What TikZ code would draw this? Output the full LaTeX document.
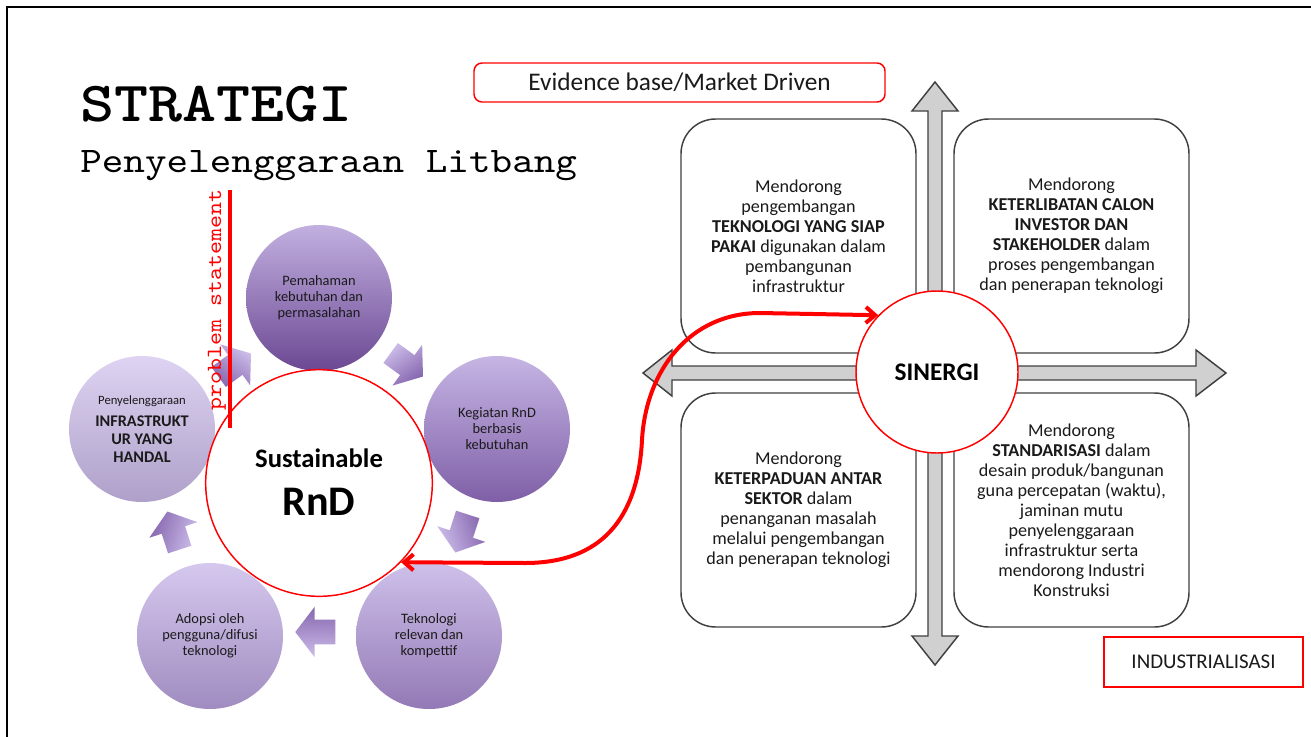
\documentclass[tikz,border=0pt]{standalone}
\usepackage{fontspec}
\setmainfont{Carlito}
\newfontfamily\courfont[FakeStretch=1.143,BoldFont=lmmonolt10-bold.otf]{lmmono10-regular.otf}
\usetikzlibrary{shapes.arrows,arrows.meta}
\definecolor{myred}{HTML}{FF0000}
\definecolor{boxgray}{HTML}{404040}
\definecolor{arrgray}{HTML}{D0D0D0}
\definecolor{txt}{HTML}{1A1A1A}
\definecolor{pA}{HTML}{C2B0E0}\definecolor{pAd}{HTML}{6B4893}
\definecolor{pB}{HTML}{C6B5E4}\definecolor{pBd}{HTML}{7F5FA7}
\definecolor{pC}{HTML}{CEC0EA}\definecolor{pCd}{HTML}{9379B5}
\definecolor{pD}{HTML}{D5C8EE}\definecolor{pDd}{HTML}{A08CC0}
\definecolor{pE}{HTML}{DED3F2}\definecolor{pEd}{HTML}{AEA0C9}
\definecolor{arL}{HTML}{CDBDEA}\definecolor{arD}{HTML}{8566AE}
\begin{document}
\begin{tikzpicture}[x=0.75pt,y=-0.75pt,
  pcirc/.style={circle,minimum size=109.5pt,inner sep=0pt,align=center,text=txt,
    font=\fontsize{10.8}{12}\selectfont},
  parrow/.style={single arrow,minimum height=30pt,inner xsep=0pt,inner ysep=9pt,
    single arrow head extend=9.75pt,single arrow tip angle=105,draw=none,
    rotate=#1,top color=arL,bottom color=arD,shading angle={0-(#1)}},
  quad/.style={draw=boxgray,line width=1.1pt,rounded corners=26pt,minimum width=176.25pt,
    minimum height=175.5pt,align=center,text=txt,font=\fontsize{13.6}{15}\selectfont},
  redbox/.style={draw=myred,line width=1.1pt,inner sep=0pt,text=txt},
  redcirc/.style={circle,draw=myred,fill=white,line width=1.1pt,inner sep=0pt},
  redarrow/.style={draw=myred,line width=3pt,<->,>={Straight Barb[length=7pt,width=12pt]}}
]
\useasboundingbox (0,0) rectangle (1311,736);
\fill[white] (0,0) rectangle (1311,736);
% frame
\draw[line width=1.5pt,black] (7,740) -- (7,7) -- (1315,7);

% titles
\node[anchor=base west,inner sep=0pt,font=\courfont\bfseries\fontsize{42.5}{42.5}\selectfont] (title) at (80,121) {STRATEGI};
\node[anchor=base west,inner sep=0pt,font=\courfont\fontsize{27}{27}\selectfont] (subtitle) at (80,172) {Penyelenggaraan Litbang};

% purple cycle circles
\node[pcirc,top color=pA,bottom color=pAd] (c1) at (319,298) {Pemahaman\\kebutuhan dan\\permasalahan};
\node[pcirc,top color=pB,bottom color=pBd] (c2) at (497,429) {Kegiatan RnD\\berbasis\\kebutuhan};
\node[pcirc,top color=pC,bottom color=pCd] (c3) at (429,636) {Teknologi\\relevan dan\\kompettif};
\node[pcirc,top color=pD,bottom color=pDd] (c4) at (210,636) {Adopsi oleh\\pengguna/difusi\\teknologi};
\node[pcirc,top color=pE,bottom color=pEd,font=\bfseries\fontsize{12.2}{13.5}\selectfont] (c5) at (142,429)
  {{\mdseries\fontsize{9.5}{12}\selectfont Penyelenggaraan}\\[3pt]INFRASTRUKT\\UR YANG\\HANDAL};

% cycle arrows
\node[parrow=-36] (a12) at (403,362) {};
\node[parrow=-108] (a23) at (463,529) {};
\node[parrow=180] (a34) at (320,632) {};
\node[parrow=108] (a45) at (175,535) {};
\node[parrow=36] (a51) at (231,368) {};

% central circle
\node[redcirc,minimum size=170pt] (rnd) at (319,483) {};
\node[anchor=base,inner sep=0pt,text=black,font=\bfseries\fontsize{20}{20}\selectfont] (sust) at (319,467) {Sustainable};
\node[anchor=base,inner sep=0pt,text=black,font=\bfseries\fontsize{31.6}{31.6}\selectfont] (rndlbl) at (319,515) {RnD};

% problem statement
\node[anchor=base west,inner sep=0pt,rotate=90,text=myred,font=\courfont\fontsize{16.25}{16.25}\selectfont] (probtext) at (221,411) {problem statement};
\coordinate (pstop) at (230,190);
\coordinate (psbot) at (230,428);
\draw[myred,line width=2.3pt] (pstop) -- (psbot);

% evidence box
\node[redbox,rounded corners=6pt,minimum width=308.25pt,minimum height=29.25pt,
  font=\fontsize{19}{19}\selectfont] (evid) at (679.5,82.5) {Evidence base/Market Driven};

% cross arrows
\draw[draw=boxgray,fill=arrgray,line width=1.1pt,line join=miter]
  (935,82) -- (958,111) -- (942,111) -- (942,366) -- (1196,366) -- (1196,350) -- (1226,373)
  -- (1196,396) -- (1196,380) -- (942,380) -- (942,636) -- (958,636) -- (935,665)
  -- (912,636) -- (928,636) -- (928,380) -- (672,380) -- (672,396) -- (643,373)
  -- (672,350) -- (672,366) -- (928,366) -- (928,111) -- (912,111) -- cycle;

% quadrant boxes
\node[quad] (qtl) at (798.5,236) {Mendorong\\pengembangan\\\textbf{TEKNOLOGI YANG SIAP}\\\textbf{PAKAI} digunakan dalam\\pembangunan\\infrastruktur};
\node[quad] (qtr) at (1071.5,236) {Mendorong\\\textbf{KETERLIBATAN CALON}\\\textbf{INVESTOR DAN}\\\textbf{STAKEHOLDER} dalam\\proses pengembangan\\dan penerapan teknologi};
\node[quad] (qbl) at (798.5,510) {Mendorong\\\textbf{KETERPADUAN ANTAR}\\\textbf{SEKTOR} dalam\\penanganan masalah\\melalui pengembangan\\dan penerapan teknologi};
\node[quad] (qbr) at (1071.5,510) {Mendorong\\\textbf{STANDARISASI} dalam\\desain produk/bangunan\\guna percepatan (waktu),\\jaminan mutu\\penyelenggaraan\\infrastruktur serta\\mendorong Industri\\Konstruksi};

% sinergi
\node[redcirc,minimum size=121.5pt,text=black,font=\bfseries\fontsize{19}{19}\selectfont] (sinergi) at (937,372) {SINERGI};

% industrialisasi
\node[redbox,minimum width=149.25pt,minimum height=37.5pt,font=\fontsize{15.7}{15.7}\selectfont] (indus) at (1203.5,662) {INDUSTRIALISASI};

% red connector
\draw[redarrow] (rnd.-44) -- (525,563) .. controls (600,563) and (638,520) .. (642,440)
  .. controls (646,370) and (690,313) .. (760,313) -- (sinergi.136);
\end{tikzpicture}
\end{document}
